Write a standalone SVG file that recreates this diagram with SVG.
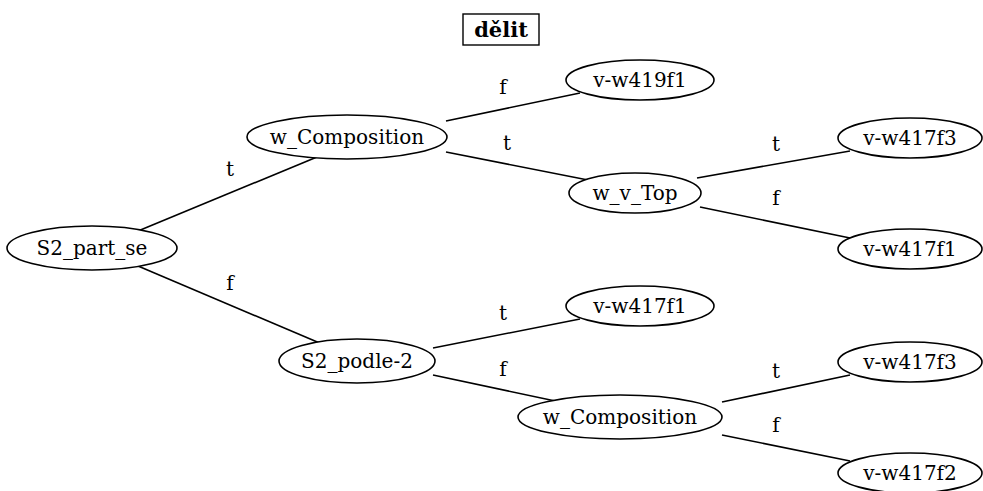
<svg xmlns="http://www.w3.org/2000/svg" width="983" height="491" viewBox="0 0 983 491">
  <style>
    .node ellipse { fill: #ffffff; stroke: #000000; stroke-width: 1.6; }
    .node text, .lbl { font-family: "DejaVu Serif", "Liberation Serif", serif; font-size: 20px; fill: #000000; text-anchor: middle; }
    .edges line { stroke: #000000; stroke-width: 1.6; }
    .title rect { fill: #ffffff; stroke: #000000; stroke-width: 1.4; }
    .title text { font-family: "DejaVu Serif", "Liberation Serif", serif; font-weight: bold; font-size: 21px; text-anchor: middle; }
  </style>
  <rect width="983" height="491" fill="#ffffff"/>

  <g id="title" class="title">
    <rect x="463" y="14" width="76" height="31"/>
    <text x="501" y="37">dělit</text>
  </g>

  <g id="connectors" class="edges">
    <line x1="138" y1="231" x2="317" y2="157"/>
    <line x1="138" y1="266" x2="322" y2="344"/>
    <line x1="446" y1="121" x2="580" y2="93"/>
    <line x1="446" y1="152" x2="588" y2="180"/>
    <line x1="697" y1="178" x2="850" y2="151"/>
    <line x1="700" y1="207" x2="850" y2="238"/>
    <line x1="433" y1="348" x2="580" y2="319"/>
    <line x1="433" y1="375" x2="560" y2="402"/>
    <line x1="722" y1="402" x2="850" y2="375"/>
    <line x1="722" y1="435" x2="850" y2="461"/>
    <text class="lbl" x="230" y="176">t</text>
    <text class="lbl" x="230" y="290">f</text>
    <text class="lbl" x="503" y="94">f</text>
    <text class="lbl" x="507" y="150">t</text>
    <text class="lbl" x="776" y="151">t</text>
    <text class="lbl" x="776" y="205">f</text>
    <text class="lbl" x="503" y="320">t</text>
    <text class="lbl" x="503" y="376">f</text>
    <text class="lbl" x="776" y="378">t</text>
    <text class="lbl" x="776" y="432">f</text>
  </g>

  <g id="n_S2_part_se" class="node">
    <ellipse cx="92" cy="248" rx="85" ry="22"/>
    <text x="92" y="255">S2_part_se</text>
  </g>
  <g id="n_w_Composition_1" class="node">
    <ellipse cx="347" cy="137" rx="100" ry="22"/>
    <text x="347" y="144">w_Composition</text>
  </g>
  <g id="n_v_w419f1" class="node">
    <ellipse cx="640" cy="80" rx="74" ry="20"/>
    <text x="640" y="87">v-w419f1</text>
  </g>
  <g id="n_w_v_Top" class="node">
    <ellipse cx="635" cy="193" rx="66" ry="20"/>
    <text x="635" y="200">w_v_Top</text>
  </g>
  <g id="n_v_w417f3_1" class="node">
    <ellipse cx="910" cy="138" rx="72" ry="20"/>
    <text x="910" y="145">v-w417f3</text>
  </g>
  <g id="n_v_w417f1_1" class="node">
    <ellipse cx="910" cy="249" rx="72" ry="20"/>
    <text x="910" y="256">v-w417f1</text>
  </g>
  <g id="n_S2_podle_2" class="node">
    <ellipse cx="357" cy="361" rx="78" ry="22"/>
    <text x="357" y="368">S2_podle-2</text>
  </g>
  <g id="n_v_w417f1_2" class="node">
    <ellipse cx="640" cy="306" rx="74" ry="20"/>
    <text x="640" y="313">v-w417f1</text>
  </g>
  <g id="n_w_Composition_2" class="node">
    <ellipse cx="620" cy="417" rx="102" ry="22"/>
    <text x="620" y="424">w_Composition</text>
  </g>
  <g id="n_v_w417f3_2" class="node">
    <ellipse cx="910" cy="362" rx="72" ry="20"/>
    <text x="910" y="369">v-w417f3</text>
  </g>
  <g id="n_v_w417f2" class="node">
    <ellipse cx="910" cy="473" rx="72" ry="20"/>
    <text x="910" y="480">v-w417f2</text>
  </g>
</svg>
